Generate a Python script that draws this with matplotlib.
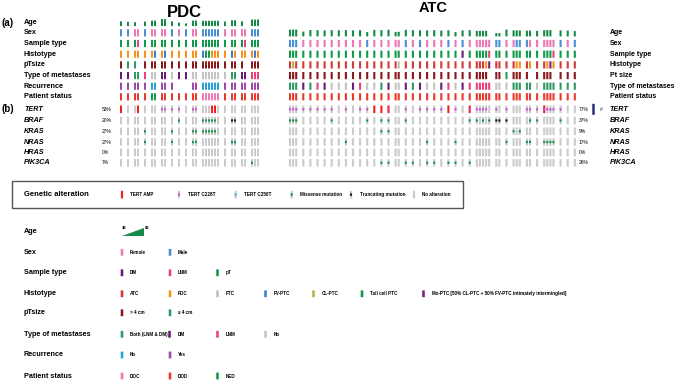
"""
oncoprint of PDC / ATC cohorts - clinical tracks + genetic alterations + legends
"""

import numpy as np
import matplotlib.pyplot as plt
from matplotlib.patches import Rectangle, Polygon

plt.rcParams['font.family'] = ['Liberation Sans', 'DejaVu Sans']

# ---------------- data ----------------
# samples grouped per patient (one group = one patient)
pdc_groups = [1, 1, 2, 1, 2, 2, 1, 1, 1, 2, 6, 1, 2, 2, 3]
atc_groups = [3, 1, 1, 1, 1, 1, 1, 1, 1, 1, 1, 1, 1, 1, 2, 1, 1, 1, 1, 1,
              1, 1, 1, 1, 1, 5, 2, 1, 3, 2, 1, 4, 1, 1, 1]

# ages per sample (None = not shown)
pdc_age = [62, 58, 55, None, 60, 68, 68, 80, 80, 62, 52, 45, 68, 68,
           66, 66, 66, 66, 66, 66, 60, 70, 70, 62, None, 76, 76, 76]
atc_age = [78, 78, 78, 62, 75, 74, 72, 74, 73, 74, 72, 74, 58, 76, 74, 77,
           60, 60, 76, 74, 73, 72, 74, 70, 73, 58, 72, 74,
           68, 68, 68, 68, None, 50, 50, 78, 72, 72, 72, 70, 70, 68,
           74, 74, 74, None, 72, 70, 66]

pdc_sex = 'M M F F M F F F F M F M F F M M M M M M F F F F F M M M'.split()
atc_sex = ('M M M F F F F F F F F F M F F F F F M F M F F F M F M F '
           'F F F F F M M F F M M M F F F F F F M F M').split()

pdc_sample = ('pT pT pT LNM pT pT pT pT pT pT pT pT pT pT pT pT pT pT pT pT '
              'pT pT pT pT LNM pT pT pT').split()
atc_sample = ('pT pT pT pT pT pT pT pT pT pT pT pT pT pT pT pT pT pT pT pT pT '
              'pT pT pT pT pT DM pT pT pT pT pT LNM pT pT pT pT pT pT pT pT pT '
              'pT pT pT LNM pT pT pT').split()

pdc_hist = ('PDC PDC PDC PDC PDC PDC FV PDC FV PDC PDC PDC PDC PDC FV TC TC '
            'PDC PDC PDC PDC FV PDC PDC PDC PDC FV PDC').split()
atc_hist = ('ATC CL ATC ATC ATC ATC ATC ATC ATC ATC ATC ATC ATC ATC ATC ATC ATC '
            'FTC ATC ATC ATC ATC ATC ATC ATC ATC ATC ATC ATC ATC ATC PDC Mx '
            'ATC ATC ATC ATC PDC PDC ATC PDC ATC ATC PDC Mx PDC ATC ATC ATC').split()

pdc_size = ('big small small - big big big big big big big big big big big big '
            'big big big big big big big big - big big big').split()
atc_size = ('big big big big big big big big big big big big big big big big '
            'big big big big big big big big big big big big big big big big - '
            'big big small big big big big - big big big big - big big big').split()

pdc_met = ('DM DM Both Both LNM No No DM DM No DM DM No No No No No No No No '
           'No Both Both DM DM LNM LNM LNM').split()
atc_met = ('Both Both Both DM Both LNM DM No No No DM LNM No No Both DM No No '
           'DM Both DM No No DM LNM No DM LNM LNM LNM LNM LNM LNM No No No '
           'Both Both Both Both Both No Both Both Both Both Both Both Both').split()

pdc_rec = ('Yes Yes Yes Yes Yes No No Yes Yes Yes - - Yes Yes No No No No No No '
           'Yes Yes Yes Yes Yes Yes Yes Yes').split()

pdc_status = ('DOD DOD DOD DOD DOD NED NED DOD DOD DOD DOD DOD DOD DOD DOC DOC '
              'DOC DOC DOC DOC DOD DOD DOD DOD DOD DOD DOD DOD').split()
atc_status = ['DOD'] * 49

# genetic alterations: N none, A amp, C C228T, X amp + C228T, M missense, T truncating
genes = ['TERT', 'BRAF', 'KRAS', 'NRAS', 'HRAS', 'PIK3CA']
pdc_pct = ['53%', '20%', '27%', '27%', '0%', '7%']
atc_pct = ['77%', '37%', '9%', '17%', '0%', '26%']

pdc_mut = {
    'TERT':   'A N N A N N N C C C C N C C N N N A A N N N N N N N N N',
    'BRAF':   'N N N N N N N N N N M N N N M M M M M N N T T N N N N N',
    'KRAS':   'N N N N M N N N N M N N M M M M M M M N N N N N N N N N',
    'NRAS':   'N N N N M N N N N M N N M M N N N N N N N M M N N N N N',
    'HRAS':   'N N N N N N N N N N N N N N N N N N N N N N N N N N N N',
    'PIK3CA': 'N N N N N N N N N N N N N N N N N N N N N N N N N M N N',
}
atc_mut = {
    'TERT':   'C C C C C C C C N C N C C A A X N N C N C C C C A C N X '
              'C C C C N C N C N N N C C C X C C C C N N',
    'BRAF':   'M M M N N N N M N N N N M N M M N N M N N N N N N N N M '
              'M N M N M T T T N N N N M M N N N N M N N',
    'KRAS':   'N N N N N N N N N N N N N N M M N N N N N N N N N N N N '
              'N N N N N N N N M N M N N N N N N N N N N',
    'NRAS':   'N N N N N N N N N M N N N N N N N N N N N M N N N M N N '
              'N N N N N N N M N N N M M N M M M M N N N',
    'HRAS':   'N N N N N N N N N N N N N N N N N N N N N N N N N N N N '
              'N N N N N N N N N N N N N N N N N N N N N',
    'PIK3CA': 'N N N N N N N N N N N N N N M M N N M M N M M N M M N M '
              'N N N N N N N N N N N N N N N N N N N N N',
}

# colours per clinical track
age_color = '#178a47'
sex_colors = {'F': ('#ec78b4', 'Female'), 'M': ('#4a8ed6', 'Male')}
sample_colors = {'DM': ('#6a1b78', 'DM'), 'LNM': ('#e8437d', 'LNM'), 'pT': ('#12994a', 'pT')}
hist_colors = {'ATC': ('#cf3a36', 'ATC'), 'PDC': ('#f7921e', 'PDC'), 'FTC': ('#bebebe', 'FTC'),
               'FV': ('#3b80d2', 'FV-PTC'), 'CL': ('#b5b53f', 'CL-PTC'),
               'TC': ('#0e9a47', 'Tall cell PTC'),
               'Mx': ('#7b217b', 'Mx-PTC [50% CL-PTC + 50% FV-PTC intimately intermingled]')}
size_colors = {'big': ('#8b1a1e', '> 4 cm'), 'small': ('#2f9a62', '\u2264 4 cm')}
met_colors = {'Both': ('#2f9a62', 'Both (LNM & DM)'), 'DM': ('#6a1b78', 'DM'),
              'LNM': ('#e8437d', 'LNM'), 'No': ('#c4c4c4', 'No')}
rec_colors = {'No': ('#26a2d8', 'No'), 'Yes': ('#9b4aa7', 'Yes')}
status_colors = {'DOC': ('#ee7ab2', 'DOC'), 'DOD': ('#e8392a', 'DOD'), 'NED': ('#12994a', 'NED')}

grey = '#cbcbcb'
amp_color = '#f41e1e'
c228_color = '#d14fd0'
c250_color = '#35c3e6'
miss_color = '#16914a'
trunc_color = '#111111'

clin_labels_pdc = ['Age', 'Sex', 'Sample type', 'Histotype', 'pTsize',
                   'Type of metastases', 'Recurrence', 'Patient status']
clin_labels_atc = ['Age', 'Sex', 'Sample type', 'Histotype', 'Pt size',
                   'Type of metastases', 'Patient status']


# ---------------- helpers ----------------
def col_positions(groups, x0, step, gap):
    xs = []
    x = x0
    for g in groups:
        for k in range(g):
            xs.append(x)
            x += step
        x += gap - step
    return np.array(xs)


BH = 7.2      # clinical bar height
MH = 7.6      # mutation bar height


def bar(ax, x, h, bottom, w, color):
    ax.bar(x, h, bottom=bottom, width=w, color=color, linewidth=0, snap=False)


def draw_cat(ax, xs, codes, yc, cmap, bw):
    for x, c in zip(xs, codes):
        if c in cmap:
            bar(ax, x, BH, yc - BH / 2, bw, cmap[c][0])


def draw_age(ax, xs, ages, yc, bw):
    base = yc + BH / 2
    for x, a in zip(xs, ages):
        if a is None:
            continue
        h = 1.8 + (a - 38) / (83 - 38) * 5.6
        bar(ax, x, h, base - h, bw, age_color)


def draw_mut(ax, xs, codes, yc, bw):
    for x, c in zip(xs, codes):
        col = amp_color if c in ('A', 'X') else grey
        bar(ax, x, MH, yc - MH / 2, bw, col)
        dot = {'C': c228_color, 'X': c228_color, 'M': miss_color, 'T': trunc_color}.get(c)
        if dot:
            bar(ax, x, 2.3, yc - 1.15, bw * 0.95, dot)


# ---------------- figure ----------------
fig = plt.figure(figsize=(6.77, 3.81), dpi=100)
ax = fig.add_axes([0, 0, 1, 1])
ax.set_xlim(0, 677)
ax.set_ylim(381, 0)
ax.axis('off')

x_pdc = col_positions(pdc_groups, 121, 3.0, 7.0)
x_atc = col_positions(atc_groups, 290, 3.1, 7.1)
bw_pdc = 2.0
bw_atc = 2.1

clin_y = [22.5, 32.8, 43.5, 54.2, 64.9, 75.6, 86.2, 96.8]
mut_y = [109.3, 120.5, 131.3, 142.0, 152.4, 162.8]

lab_fs = 5.2
ax.text(184.5, 12.5, 'PDC', fontsize=12, fontweight='bold', ha='center', va='center')
ax.text(433, 7.5, 'ATC', fontsize=10.5, fontweight='bold', ha='center', va='center')
ax.text(1.5, 22.5, '(a)', fontsize=7, fontweight='bold', va='center')
ax.text(1.5, 109.3, '(b)', fontsize=7, fontweight='bold', va='center')

# PDC clinical tracks
draw_age(ax, x_pdc, pdc_age, clin_y[0], bw_pdc)
for yc, codes, cmap in zip(clin_y[1:],
                           [pdc_sex, pdc_sample, pdc_hist, pdc_size, pdc_met, pdc_rec, pdc_status],
                           [sex_colors, sample_colors, hist_colors, size_colors, met_colors,
                            rec_colors, status_colors]):
    draw_cat(ax, x_pdc, codes, yc, cmap, bw_pdc)
for yc, lab in zip(clin_y, clin_labels_pdc):
    ax.text(24, yc, lab, fontsize=lab_fs, fontweight='bold', va='center')

# ATC clinical tracks (no recurrence row, shifted one row down)
atc_y = clin_y[1:]
draw_age(ax, x_atc, atc_age, atc_y[0], bw_atc)
for yc, codes, cmap in zip(atc_y[1:],
                           [atc_sex, atc_sample, atc_hist, atc_size, atc_met, atc_status],
                           [sex_colors, sample_colors, hist_colors, size_colors, met_colors,
                            status_colors]):
    draw_cat(ax, x_atc, codes, yc, cmap, bw_atc)
for yc, lab in zip(atc_y, clin_labels_atc):
    ax.text(609.5, yc, lab, fontsize=5.0, fontweight='bold', va='center')

# genetic alterations
for yc, g, p1, p2 in zip(mut_y, genes, pdc_pct, atc_pct):
    draw_mut(ax, x_pdc, pdc_mut[g].split(), yc, bw_pdc)
    draw_mut(ax, x_atc, atc_mut[g].split(), yc, bw_atc)
    ax.text(24, yc, g, fontsize=lab_fs, fontweight='bold', style='italic', va='center')
    ax.text(609.5, yc, g, fontsize=lab_fs, fontweight='bold', style='italic', va='center')
    ax.text(101.5, yc, p1, fontsize=3.6, va='center')
    ax.text(579, yc, p2, fontsize=3.6, va='center')

# TERT marker on the right of ATC
bar(ax, 593.5, 11, mut_y[0] - 5.5, 2.4, '#1f2a6e')
ax.text(600, mut_y[0], '#', fontsize=3.6, color='#1f2a6e', va='center')

# ---------------- genetic alteration legend ----------------
ax.add_patch(Rectangle((11.7, 181), 451, 27.3, fill=False, edgecolor='#555555', linewidth=1.0))
ly = 194.6
ax.text(24, ly, 'Genetic alteration', fontsize=5.5, fontweight='bold', va='center')
gen_legend = [('A', 'TERT AMP', 122), ('C', 'TERT C228T', 179), ('S', 'TERT C250T', 235.7),
              ('M', 'Missense mutation', 291.7), ('T', 'Truncating mutation', 351),
              ('N', 'No alteration', 414)]
for code, lab, x in gen_legend:
    if code == 'S':
        bar(ax, x, MH, ly - MH / 2, 2.2, grey)
        bar(ax, x, 2.3, ly - 1.15, 2.2, c250_color)
    else:
        draw_mut(ax, [x], [code], ly, 2.2)
    ax.text(x + 8.5, ly, lab, fontsize=3.3, fontweight='bold', va='center')

# ---------------- clinical legend ----------------
leg_y = [231.5, 252.3, 272.8, 293.8, 312.8, 334.3, 355.0, 376.0]
slots = [122, 170, 217.5, 265.5, 313.5, 362, 423.5]
ax.text(24, leg_y[0], 'Age', fontsize=lab_fs, fontweight='bold', va='center')
ax.add_patch(Polygon([(122, 236), (143.5, 236), (143.5, 227.6)], closed=True,
                     color=age_color, linewidth=0))
ax.text(121.5, 227.8, '38', fontsize=3.0, fontweight='bold', va='center')
ax.text(144.5, 227.8, '83', fontsize=3.0, fontweight='bold', va='center')

leg_rows = [('Sex', sex_colors, ['F', 'M']),
            ('Sample type', sample_colors, ['DM', 'LNM', 'pT']),
            ('Histotype', hist_colors, ['ATC', 'PDC', 'FTC', 'FV', 'CL', 'TC', 'Mx']),
            ('pTsize', size_colors, ['big', 'small']),
            ('Type of metastases', met_colors, ['Both', 'DM', 'LNM', 'No']),
            ('Recurrence', rec_colors, ['No', 'Yes']),
            ('Patient status', status_colors, ['DOC', 'DOD', 'NED'])]
for yc, (title, cmap, keys) in zip(leg_y[1:], leg_rows):
    ax.text(24, yc, title, fontsize=lab_fs, fontweight='bold', va='center')
    xs = slots[:len(keys)]
    if title == 'Type of metastases':
        xs = [122, 169.5, 217.5, 265.5]
    for x, k in zip(xs, keys):
        bar(ax, x, 6.8, yc - 3.4, 2.6, cmap[k][0])
        ax.text(x + 8, yc, cmap[k][1], fontsize=3.3, fontweight='bold', va='center')

fig.savefig('out.png', dpi=100)
